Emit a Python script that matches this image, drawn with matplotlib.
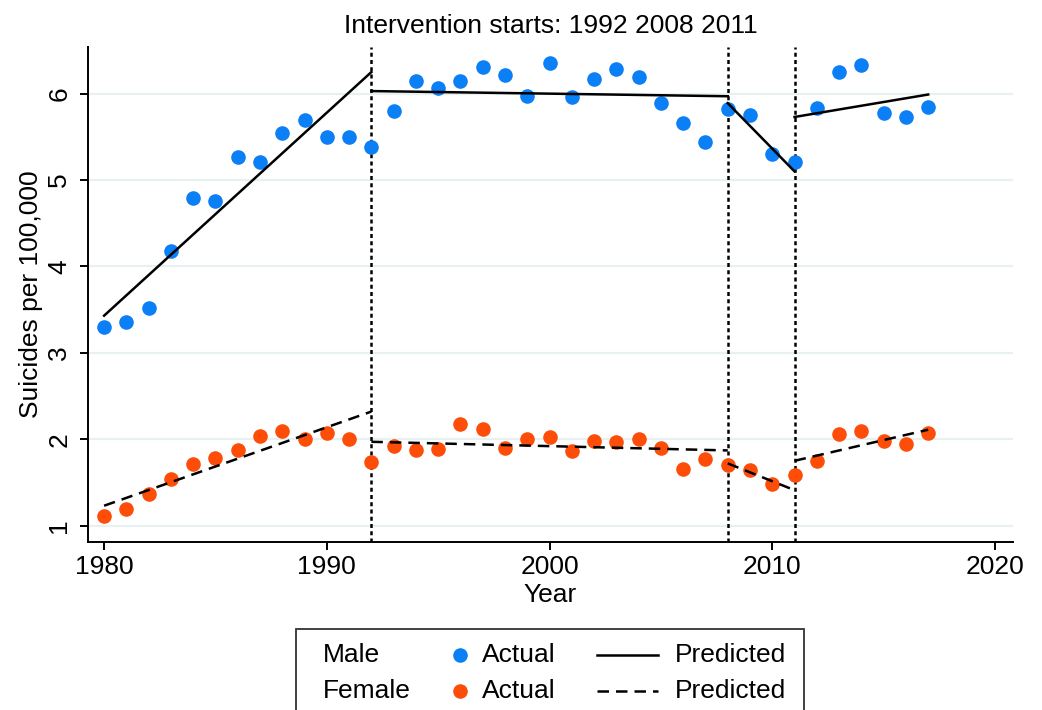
import matplotlib
matplotlib.use("Agg")
import matplotlib.pyplot as plt
from matplotlib.lines import Line2D
from matplotlib.patches import Rectangle
import numpy as np

plt.rcParams['font.family'] = ['Liberation Sans', 'DejaVu Sans']

years = np.arange(1980, 2018)

male = [3.30, 3.36, 3.52, 4.18, 4.79, 4.76, 5.27, 5.21, 5.55, 5.70,
        5.50, 5.50, 5.38, 5.80, 6.15, 6.07, 6.15, 6.31, 6.22, 5.97,
        6.35, 5.96, 6.17, 6.29, 6.19, 5.89, 5.66, 5.44, 5.82, 5.75,
        5.30, 5.21, 5.83, 6.25, 6.33, 5.78, 5.73, 5.85]

female = [1.11, 1.19, 1.36, 1.54, 1.71, 1.78, 1.88, 2.04, 2.09, 2.00,
          2.07, 2.00, 1.74, 1.92, 1.88, 1.89, 2.18, 2.12, 1.90, 2.00,
          2.02, 1.86, 1.98, 1.97, 2.00, 1.90, 1.66, 1.77, 1.70, 1.64,
          1.48, 1.59, 1.75, 2.06, 2.10, 1.98, 1.95, 2.07]

# segmented fit: (start year, end year) and predicted values at the ends
seg_years = [(1980, 1992), (1992, 2008), (2008, 2011), (2011, 2017)]
male_pred = [(3.43, 6.25), (6.03, 5.97), (5.89, 5.10), (5.73, 5.99)]
female_pred = [(1.23, 2.32), (1.97, 1.87), (1.72, 1.41), (1.75, 2.11)]

breaks = [1992, 2008, 2011]

blue = '#0a7ff6'
orange = '#fd4d08'
dash_long = (0, (4.6, 2.8))

fig = plt.figure(figsize=(10.42, 7.10), dpi=100)
ax = fig.add_axes([0.0845, 0.2366, 0.972 - 0.0845, 0.9338 - 0.2366])

for v in range(1, 7):
    ax.axhline(v, color='#e8f0f2', lw=1.6, zorder=0)

for b in breaks:
    ax.axvline(b, color='black', lw=1.8, ls=(0, (1.6, 1.3)), zorder=1)

ax.plot(years, male, 'o', color=blue, ms=10.5, mec='none', zorder=3)
ax.plot(years, female, 'o', color=orange, ms=10.5, mec='none', zorder=3)

for (y0, y1), (m0, m1), (f0, f1) in zip(seg_years, male_pred, female_pred):
    ax.plot([y0, y1], [m0, m1], color='black', lw=1.8, zorder=4)
    ax.plot([y0, y1], [f0, f1], color='black', lw=1.8, ls=dash_long, zorder=4)

ax.set_xlim(1979.28, 2020.8)
ax.set_ylim(0.81, 6.54)
ax.set_xticks([1980, 1990, 2000, 2010, 2020])
ax.set_yticks([1, 2, 3, 4, 5, 6])
ax.tick_params(labelsize=19, length=6, width=1.4, direction='out')
ax.tick_params(axis='y', pad=6)
for lab in ax.get_yticklabels():
    lab.set_rotation(90)
    lab.set_va('center')
ax.spines['top'].set_visible(False)
ax.spines['right'].set_visible(False)
ax.spines['left'].set_linewidth(1.4)
ax.spines['bottom'].set_linewidth(1.4)

ax.set_xlabel('Year', fontsize=19, labelpad=3)
ax.set_ylabel('Suicides per 100,000', fontsize=19, labelpad=3)
ax.set_title('Intervention starts: 1992 2008 2011', fontsize=19, pad=10)

# legend box drawn by hand (runs past the bottom edge as in the original)
fig.patches.append(Rectangle((296 / 1042, -0.05), (804 - 296) / 1042,
                             1 - 629 / 710 + 0.05, transform=fig.transFigure,
                             fill=False, ec='#333333', lw=1.3))
rows = [(1 - 655 / 710, 'Male', blue, '-'),
        (1 - 691 / 710, 'Female', orange, dash_long)]
for yy, name, col, ls in rows:
    fig.text(323 / 1042, yy, name, fontsize=19, va='center')
    fig.lines.append(Line2D([460 / 1042], [yy], marker='o', color=col,
                            ms=10.5, mec='none', transform=fig.transFigure))
    fig.text(482 / 1042, yy, 'Actual', fontsize=19, va='center')
    fig.lines.append(Line2D([597 / 1042, 658 / 1042], [yy, yy], color='black',
                            lw=1.8, ls=ls, transform=fig.transFigure))
    fig.text(675 / 1042, yy, 'Predicted', fontsize=19, va='center')

fig.savefig('out.png', dpi=100)
